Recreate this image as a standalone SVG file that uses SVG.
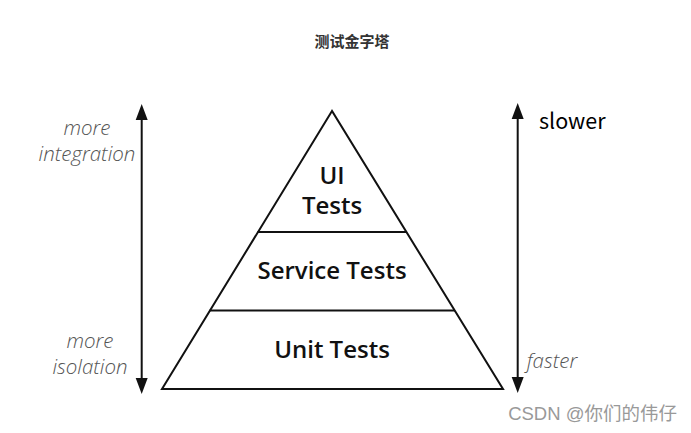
<svg xmlns="http://www.w3.org/2000/svg" width="691" height="433" viewBox="0 0 691 433">
<style>
.side{font-family:"Open Sans","Liberation Sans",sans-serif;font-style:italic;font-weight:300;font-size:20.5px;fill:#555;text-anchor:middle}
.lbl{font-family:"Open Sans","Liberation Sans",sans-serif;font-weight:600;font-size:24px;fill:#111;text-anchor:middle}
.edge{stroke:#111;stroke-width:2;fill:none}
</style>
<rect width="691" height="433" fill="#fff"/>
<text id="title" x="352" y="47" font-family="Noto Sans CJK SC,sans-serif" font-weight="bold" font-size="15" fill="#333" text-anchor="middle">测试金字塔</text>
<g id="pyramid">
<polygon points="332,111 162,389 503,389" class="edge"/>
<line x1="257.5" y1="232" x2="406.5" y2="232" class="edge"/>
<line x1="209.6" y1="310.5" x2="455" y2="310.5" class="edge"/>
</g>
<g id="node-ui"><text class="lbl" x="332" y="184">UI</text><text class="lbl" x="332" y="214">Tests</text></g>
<g id="node-service"><text class="lbl" x="332" y="279">Service Tests</text></g>
<g id="node-unit"><text class="lbl" x="332" y="358">Unit Tests</text></g>
<g id="connectors">
<line x1="141.7" y1="118" x2="141.7" y2="380" stroke="#111" stroke-width="2"/>
<path d="M141.7,104 L135.7,120 L147.7,120 Z" fill="#111"/>
<path d="M141.7,394 L135.7,378 L147.7,378 Z" fill="#111"/>
<line x1="517.7" y1="118" x2="517.7" y2="380" stroke="#111" stroke-width="2"/>
<path d="M517.7,103 L511.7,119 L523.7,119 Z" fill="#111"/>
<path d="M517.7,393 L511.7,377 L523.7,377 Z" fill="#111"/>
</g>
<g id="left-labels">
<text class="side" x="87" y="135">more</text>
<text class="side" x="87" y="161">integration</text>
<text class="side" x="90" y="348">more</text>
<text class="side" x="90" y="374">isolation</text>
</g>
<g id="right-labels">
<text x="539" y="129" font-family="Noto Sans CJK SC,Noto Sans,sans-serif" font-size="21.5" fill="#000">slower</text>
<text class="side" x="552" y="368">faster</text>
</g>
<text id="watermark" x="677" y="420" font-family="Liberation Sans,Noto Sans CJK SC,sans-serif" font-size="18.5" fill="#999" text-anchor="end">CSDN @你们的伟仔</text>
</svg>
